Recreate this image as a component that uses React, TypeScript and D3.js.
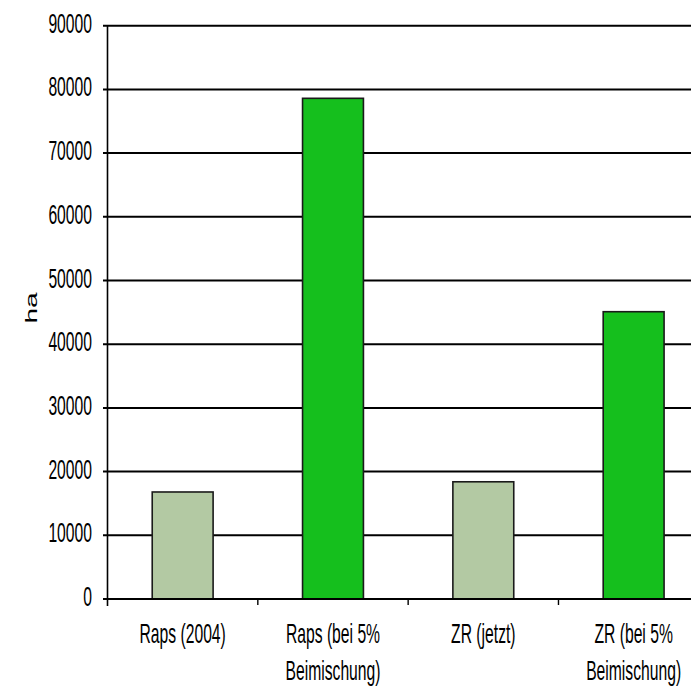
import React from "react";
import * as d3 from "d3";

const categories: string[][] = [
  ["Raps (2004)"],
  ["Raps (bei 5%", "Beimischung)"],
  ["ZR (jetzt)"],
  ["ZR (bei 5%", "Beimischung)"],
];
const values: number[] = [16800, 78600, 18400, 45100];
const barColors: string[] = ["#b3c9a3", "#15bf1d", "#b3c9a3", "#15bf1d"];
const yTicks: number[] = [0, 10000, 20000, 30000, 40000, 50000, 60000, 70000, 80000, 90000];
const yLabel = "ha";

const W = 691;
const H = 688;
const SX = 0.56; // narrow text
const FONT = "Liberation Sans, Arial, Helvetica, sans-serif";
const FS = 28;

export default function App() {
  const x0 = 107.5;
  const x1 = 708.8;
  const y = d3.scaleLinear().domain([0, 90000]).range([599, 25.7]);
  const x = d3
    .scaleBand<number>()
    .domain(categories.map((_, i) => i))
    .range([x0, x1])
    .padding(0);
  const bw = x.bandwidth();
  const barW = bw * 0.405;

  return (
    <svg
      width={W}
      height={H}
      style={{ position: "absolute", left: 0, top: 0, background: "#fff" }}
    >
      {/* gridlines and y ticks */}
      {yTicks.map((t) => (
        <line
          key={"g" + t}
          x1={103}
          x2={W}
          y1={y(t)}
          y2={y(t)}
          stroke="#000"
          strokeWidth={2}
        />
      ))}
      {yTicks.map((t) => (
        <text
          key={"l" + t}
          transform={`translate(92,${y(t) + 7}) scale(${SX},1)`}
          textAnchor="end"
          fontFamily={FONT}
          fontSize={FS}
          fill="#000"
        >
          {t}
        </text>
      ))}
      {/* bars */}
      {values.map((v, i) => {
        const cx = (x(i) as number) + bw / 2;
        return (
          <rect
            key={"b" + i}
            x={cx - barW / 2}
            y={y(v)}
            width={barW}
            height={y(0) - y(v)}
            fill={barColors[i]}
            stroke="#1a1a1a"
            strokeWidth={1.6}
          />
        );
      })}
      {/* axes */}
      <line x1={x0} x2={x0} y1={y(90000)} y2={606} stroke="#000" strokeWidth={1.6} />
      <line x1={103} x2={W} y1={y(0)} y2={y(0)} stroke="#000" strokeWidth={2.2} />
      {categories.map((_, i) =>
        i === 0 ? null : (
          <line
            key={"t" + i}
            x1={x(i) as number}
            x2={x(i) as number}
            y1={y(0)}
            y2={605}
            stroke="#000"
            strokeWidth={1.4}
          />
        )
      )}
      {/* category labels */}
      {categories.map((lines, i) => {
        const cx = (x(i) as number) + bw / 2;
        return (
          <g key={"c" + i}>
            {lines.map((ln, j) => (
              <text
                key={j}
                transform={`translate(${cx},${643 + j * 37}) scale(${SX},1)`}
                textAnchor="middle"
                fontFamily={FONT}
                fontSize={FS}
                fill="#000"
              >
                {ln}
              </text>
            ))}
          </g>
        );
      })}
      {/* y axis title */}
      <text
        transform={`translate(37,308) scale(${SX},1) rotate(-90)`}
        textAnchor="middle"
        fontFamily={FONT}
        fontSize={FS}
        fill="#000"
      >
        {yLabel}
      </text>
    </svg>
  );
}
